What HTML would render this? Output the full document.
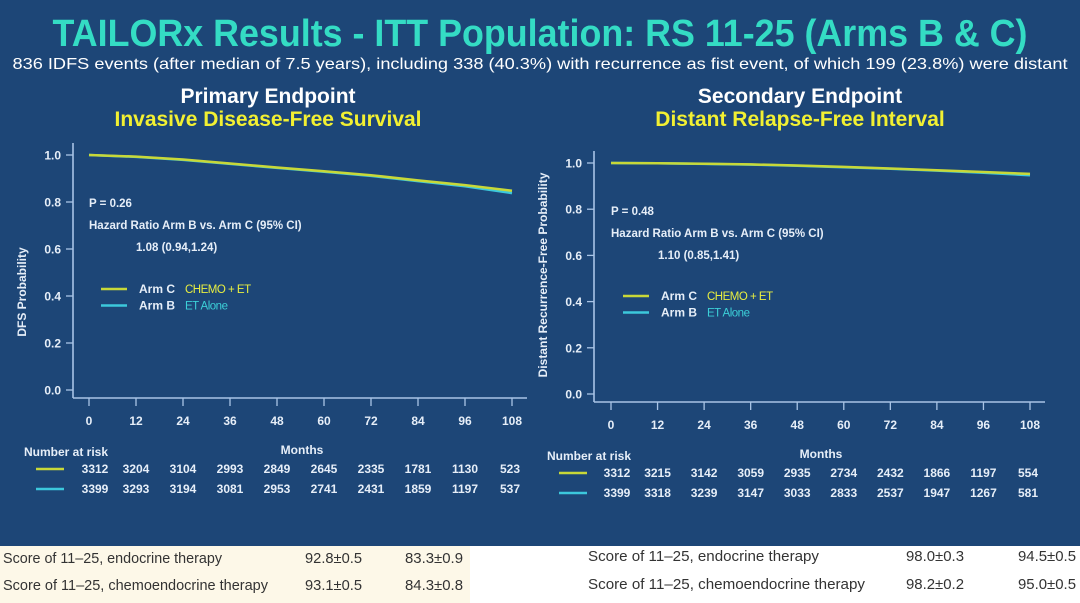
<!DOCTYPE html>
<html><head><meta charset="utf-8"><style>
html,body{margin:0;padding:0;background:#fff}
svg{display:block;font-family:"Liberation Sans",sans-serif}
</style></head><body>
<svg id="s" width="1080" height="603" viewBox="0 0 1080 603">
<rect x="0" y="0" width="1080" height="546" fill="#1d4677"/>
<rect x="0" y="546" width="470" height="57" fill="#fdf8e8"/>
<text x="540" y="46" text-anchor="middle" font-size="38" font-weight="bold" fill="#34dcc4" textLength="975" lengthAdjust="spacingAndGlyphs">TAILORx Results - ITT Population: RS 11-25 (Arms B &amp; C)</text>
<text x="540" y="69" text-anchor="middle" font-size="16" fill="#fff" textLength="1055" lengthAdjust="spacingAndGlyphs">836 IDFS events (after median of 7.5 years), including 338 (40.3%) with recurrence as fist event, of which 199 (23.8%) were distant</text>
<text x="268" y="103" text-anchor="middle" font-size="21" font-weight="bold" fill="#fff">Primary Endpoint</text>
<text x="268" y="126" text-anchor="middle" font-size="21" font-weight="bold" fill="#f2f032">Invasive Disease-Free Survival</text>
<text x="800" y="103" text-anchor="middle" font-size="21" font-weight="bold" fill="#fff">Secondary Endpoint</text>
<text x="800" y="126" text-anchor="middle" font-size="21" font-weight="bold" fill="#f2f032">Distant Relapse-Free Interval</text>
<g id="charts"></g>
<g font-family="'Liberation Sans Narrow','Liberation Sans',sans-serif" font-size="15" fill="#333">
<text x="3" y="563" textLength="219" lengthAdjust="spacingAndGlyphs">Score of 11–25, endocrine therapy</text>
<text x="305" y="563" textLength="57" lengthAdjust="spacingAndGlyphs">92.8±0.5</text>
<text x="405" y="563" textLength="58" lengthAdjust="spacingAndGlyphs">83.3±0.9</text>
<text x="3" y="590" textLength="265" lengthAdjust="spacingAndGlyphs">Score of 11–25, chemoendocrine therapy</text>
<text x="305" y="590" textLength="57" lengthAdjust="spacingAndGlyphs">93.1±0.5</text>
<text x="405" y="590" textLength="58" lengthAdjust="spacingAndGlyphs">84.3±0.8</text>
<text x="588" y="561" textLength="231" lengthAdjust="spacingAndGlyphs">Score of 11–25, endocrine therapy</text>
<text x="906" y="561" textLength="58" lengthAdjust="spacingAndGlyphs">98.0±0.3</text>
<text x="1018" y="561" textLength="58" lengthAdjust="spacingAndGlyphs">94.5±0.5</text>
<text x="588" y="589" textLength="277" lengthAdjust="spacingAndGlyphs">Score of 11–25, chemoendocrine therapy</text>
<text x="906" y="589" textLength="58" lengthAdjust="spacingAndGlyphs">98.2±0.2</text>
<text x="1018" y="589" textLength="58" lengthAdjust="spacingAndGlyphs">95.0±0.5</text>
</g>
</svg>
<script>
const months = [0,12,24,36,48,60,72,84,96,108];
const yTicks = [0,0.2,0.4,0.6,0.8,1.0];
const idfsArmC = [1.0,0.993,0.981,0.964,0.947,0.931,0.914,0.892,0.872,0.848];
const idfsArmB = [1.0,0.992,0.979,0.962,0.945,0.929,0.911,0.889,0.867,0.838];
const drfiArmC = [1.0,0.999,0.997,0.994,0.989,0.983,0.976,0.969,0.961,0.953];
const drfiArmB = [1.0,0.999,0.996,0.993,0.988,0.982,0.975,0.967,0.958,0.947];
const riskIdfsC = [3312,3204,3104,2993,2849,2645,2335,1781,1130,523];
const riskIdfsB = [3399,3293,3194,3081,2953,2741,2431,1859,1197,537];
const riskDrfiC = [3312,3215,3142,3059,2935,2734,2432,1866,1197,554];
const riskDrfiB = [3399,3318,3239,3147,3033,2833,2537,1947,1267,581];

const NS='http://www.w3.org/2000/svg';
const root=document.getElementById('charts');
function mk(tag,attrs,parent,txt){const e=document.createElementNS(NS,tag);for(const k in attrs)e.setAttribute(k,attrs[k]);if(txt!==undefined)e.textContent=txt;(parent||root).appendChild(e);return e;}

function chart(cfg){
  const g=mk('g',{});
  
  
  const X=m=>cfg.x0+(cfg.x1-cfg.x0)*m/108;
  const Y=v=>cfg.y0+(cfg.y1-cfg.y0)*(1-v);
  const ax='#a9c4e6';
  let l=mk('line',{x1:cfg.ax,y1:cfg.y0-12,x2:cfg.ax,y2:cfg.axY,stroke:ax,'stroke-width':1.6},g);
  
  
  l=mk('line',{x1:cfg.ax,y1:cfg.axY,x2:X(108)+15,y2:cfg.axY,stroke:ax,'stroke-width':1.6},g);
  
  
  yTicks.forEach(v=>{
    mk('line',{x1:cfg.ax-7,y1:Y(v),x2:cfg.ax,y2:Y(v),stroke:ax,'stroke-width':1.3},g);
    const t=mk('text',{x:cfg.ax-12,y:Y(v)+4.5,'text-anchor':'end','font-size':12,'font-weight':'bold',fill:'#e6eef8'},g,v.toFixed(1));
    
    
  });
  months.forEach(m=>{
    mk('line',{x1:X(m),y1:cfg.axY,x2:X(m),y2:cfg.axY+8,stroke:ax,'stroke-width':1.3},g);
    const t=mk('text',{x:X(m),y:cfg.axY+27,'text-anchor':'middle','font-size':12,'font-weight':'bold',fill:'#e6eef8'},g,String(m));
    
    
  });
  const yt=mk('text',{transform:`translate(${cfg.ytx},${cfg.yty}) rotate(-90)`,'text-anchor':'middle','font-size':12,'font-weight':'bold',fill:'#e6eef8'},g,cfg.ytitle);
  
  
  const xt=mk('text',{x:cfg.monthsX,y:cfg.axY+56,'text-anchor':'middle','font-size':12,'font-weight':'bold',fill:'#e6eef8'},g,'Months');
  
  
  [[cfg.b,'#3cc8dc'],[cfg.c,'#c8d838']].forEach(([arr,col],i)=>{
    const d=arr.map((v,k)=>(k?'L':'M')+X(months[k]).toFixed(1)+' '+Y(v).toFixed(1)).join(' ');
    const p=mk('path',{d:d,fill:'none',stroke:col,'stroke-width':2.5},g);
    
    
  });
  const ix=X(0);
  const s1=mk('text',{x:ix,y:cfg.ty,'font-size':11.5,'font-weight':'bold',fill:'#e6eef8'},g,cfg.p);
  
  
  const s2=mk('text',{x:ix,y:cfg.ty+22,'font-size':11.5,'font-weight':'bold',fill:'#e6eef8'},g,'Hazard Ratio Arm B vs. Arm C (95% CI)');
  
  
  const s3=mk('text',{x:ix+47,y:cfg.ty+44,'font-size':11.5,'font-weight':'bold',fill:'#e6eef8'},g,cfg.hr);
  
  
  [['Arm C','CHEMO + ET','#c8d838','#e8ee40'],['Arm B','ET Alone','#3cc8dc','#3cd0d8']].forEach((e,i)=>{
    const y=cfg.ly+i*16.5;
    const le=mk('g',{},g);
    
    
    mk('line',{x1:ix+12,y1:y,x2:ix+38,y2:y,stroke:e[2],'stroke-width':2.5},le);
    mk('text',{x:ix+50,y:y+4,'font-size':12,'font-weight':'bold',fill:'#e6eef8'},le,e[0]);
    mk('text',{x:ix+96,y:y+4,'font-size':11.5,fill:e[3],'letter-spacing':'-0.5'},le,e[1]);
  });
  const nr=mk('text',{x:cfg.nrX,y:cfg.axY+58,'font-size':12,'font-weight':'bold',fill:'#e6eef8'},g,'Number at risk');
  
  
  [[cfg.rc,'#c8d838'],[cfg.rb,'#3cc8dc']].forEach(([arr,col],i)=>{
    const y=cfg.axY+75+i*20;
    const row=mk('g',{},g);
    
    
    mk('line',{x1:cfg.nrX+12,y1:y-4,x2:cfg.nrX+40,y2:y-4,stroke:col,'stroke-width':2.5},row);
    arr.forEach((v,k)=>mk('text',{x:X(months[k])+(k==0?6:k==9?-2:0),y:y,'text-anchor':'middle','font-size':12,'font-weight':'bold',fill:'#e6eef8'},row,String(v)));
  });
}
chart({name:'idfs-chart',x0:89,x1:512,y0:155,y1:390,ax:73,axY:398,ytx:26,yty:292,ytitle:'DFS Probability',monthsX:302,nrX:24,
  c:idfsArmC,b:idfsArmB,rc:riskIdfsC,rb:riskIdfsB,p:'P = 0.26',hr:'1.08 (0.94,1.24)',ty:207,ly:289});
chart({name:'drfi-chart',x0:611,x1:1030,y0:163,y1:394,ax:594,axY:402,ytx:547,yty:275,ytitle:'Distant Recurrence-Free Probability',monthsX:821,nrX:547,
  c:drfiArmC,b:drfiArmB,rc:riskDrfiC,rb:riskDrfiB,p:'P = 0.48',hr:'1.10 (0.85,1.41)',ty:215,ly:296});
</script>
</body></html>
